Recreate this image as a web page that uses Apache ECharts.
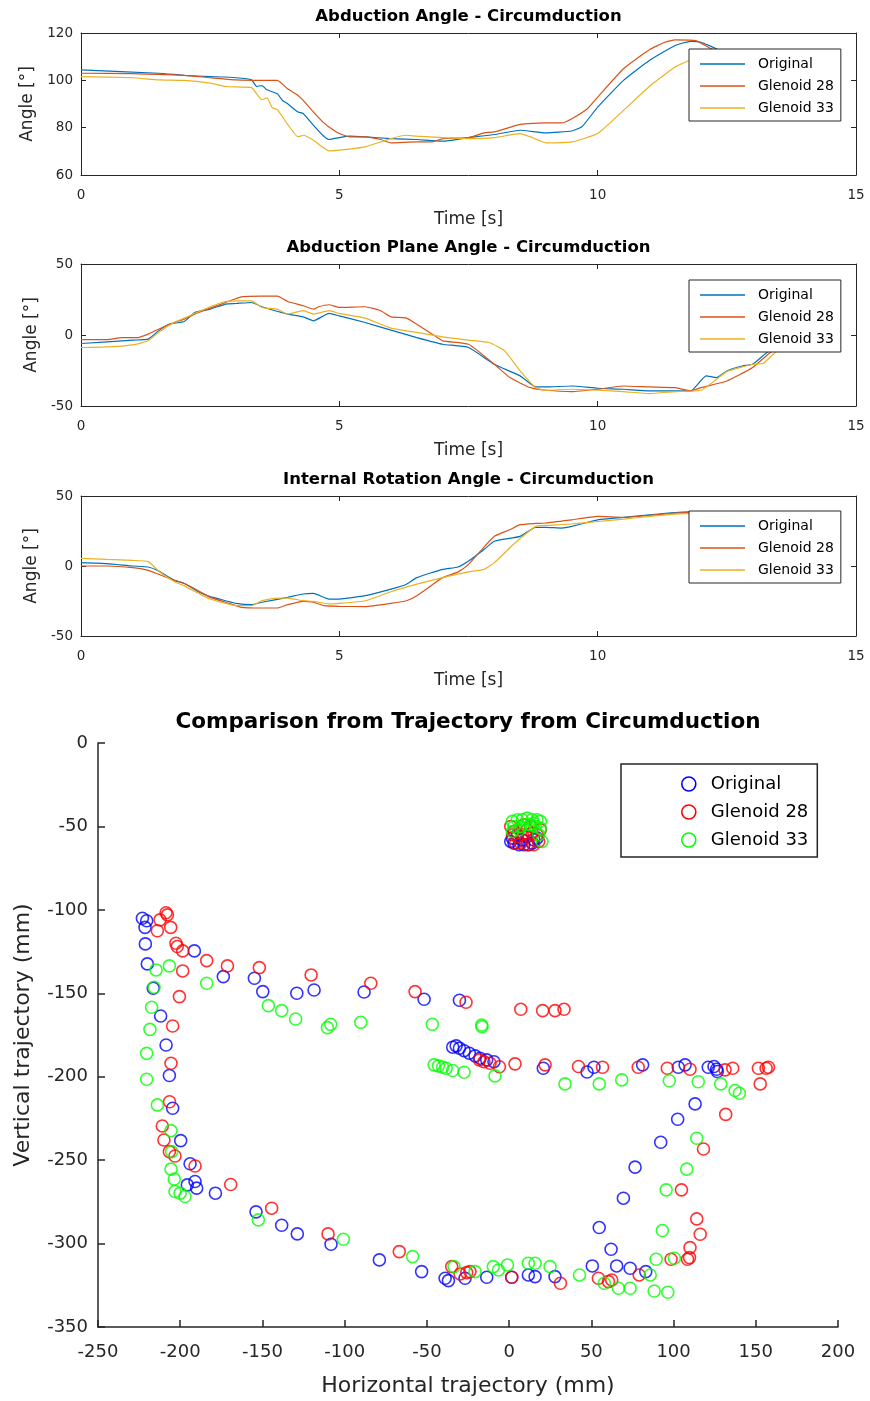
<!DOCTYPE html>
<html>
<head>
<meta charset="utf-8">
<script src="https://cdn.jsdelivr.net/npm/echarts@6/dist/echarts.min.js"></script>
<style>
html,body{margin:0;padding:0;background:#fff;}
#chart{width:870px;height:1401px;}
</style>
</head>
<body>
<div id="chart"></div>
<script>
// ---------------- DATA ----------------
const seriesNames = ['Original', 'Glenoid 28', 'Glenoid 33'];
const lineColors = ['#0072BD', '#D95319', '#EDB120'];
const scatterColors = ['#0000FF', '#FF0000', '#00FF00'];

const plotTitles = ['Abduction Angle - Circumduction', 'Abduction Plane Angle - Circumduction', 'Internal Rotation Angle - Circumduction'];
const timeTicks = [0, 5, 10, 15];

// Abduction angle [time s, angle deg]
const abdOriginal = [[0,104.4],[1.5,103],[2,102.1],[2.5,101.6],[3,101.1],[3.3,100.2],[3.4,97.4],[3.5,97.8],[3.6,96],[3.8,94.3],[3.9,91.5],[4,90.1],[4.2,86.6],[4.3,86],[4.5,81],[4.7,76.4],[4.8,75],[5,75.8],[5.2,76.4],[5.5,76.1],[6,75.4],[6.5,75],[7,74.3],[7.5,75.8],[8,77.1],[8.5,78.9],[9,77.8],[9.5,78.6],[9.7,80.5],[10,88.7],[10.5,100],[11,108.4],[11.5,114.7],[11.8,116.5],[12,116.1],[12.3,113.3],[12.6,109],[13,106],[13.6,104]];
const abdG28 = [[0,103],[1,102.8],[1.5,102.5],[2,102.1],[2.5,101.1],[3,100.2],[3.5,100],[3.8,100],[4,96.4],[4.2,93.6],[4.3,91.5],[4.5,86.6],[4.7,82],[4.8,80.3],[5,77.5],[5.2,76.1],[5.5,76.1],[5.8,75],[6,73.6],[6.5,74],[6.8,74],[7,75.4],[7.5,75.8],[7.8,77.8],[8,78.2],[8.5,81.4],[9,82],[9.3,82],[9.5,83.8],[9.8,88],[10,92.9],[10.5,104.9],[11,112.9],[11.3,116.1],[11.5,117.1],[11.9,116.8],[12.2,113.3],[12.6,109],[13,106],[13.6,104]];
const abdG33 = [[0,101.6],[1,101.1],[1.5,100.2],[2,100],[2.5,98.8],[2.8,97.4],[3.3,96.9],[3.4,94.3],[3.5,91.8],[3.6,92.6],[3.7,88.5],[3.8,87.6],[4,81.4],[4.2,76.1],[4.3,76.8],[4.5,74.7],[4.8,70.2],[5,70.5],[5.5,71.9],[6,75.4],[6.3,76.8],[6.5,76.4],[7,75.8],[7.5,75.4],[8,75.8],[8.5,77.5],[8.7,76.1],[9,73.6],[9.5,74],[10,77.5],[10.5,87.3],[11,97.4],[11.5,105.6],[11.8,108.6],[12.2,109.5],[12.6,108.5],[13,107],[13.6,104]];

// Abduction plane angle
const planeOriginal = [[0,-6],[1,-3.6],[1.3,-2.9],[1.5,2.9],[1.7,7.6],[2,9.5],[2.2,15.9],[2.5,18.2],[2.8,21.8],[3,22.2],[3.3,22.9],[3.5,19.9],[4,14.7],[4.3,12.8],[4.5,10],[4.8,15.2],[5,13.5],[5.5,8.8],[6,3.4],[6.5,-1.8],[7,-6.5],[7.5,-8.8],[8,-20.6],[8.5,-28.8],[8.8,-36.6],[9,-36.6],[9.5,-35.9],[10,-37.5],[10.5,-38.2],[11,-39.4],[11.5,-39.4],[11.8,-39.4],[12.1,-28.8],[12.3,-30],[12.5,-25.3],[12.8,-21.8],[13,-20.6],[13.3,-11.6],[13.6,-6]];
const planeG28 = [[0,-3.2],[0.5,-3.2],[0.8,-1.8],[1.1,-1.8],[1.3,0.6],[1.5,4.1],[1.8,8.8],[2,11.2],[2.2,14.7],[2.5,18.9],[2.8,22.9],[3.1,26.9],[3.5,27.4],[3.8,27.4],[4,23.6],[4.3,20.6],[4.5,18.2],[4.6,19.9],[4.8,21.3],[5,19.4],[5.5,19.9],[5.8,17.1],[6,12.8],[6.3,11.9],[6.5,7.6],[6.8,0.6],[7,-4.1],[7.5,-6.5],[8,-20.6],[8.3,-30],[8.7,-37.1],[9,-38.9],[9.5,-39.9],[10,-38.2],[10.5,-35.9],[11,-36.6],[11.5,-37.1],[11.8,-39.4],[12,-37.1],[12.5,-32.4],[13,-22.9],[13.3,-13.5],[13.6,-6]];
const planeG33 = [[0,-8.8],[0.5,-8.4],[1,-6.9],[1.3,-4.1],[1.5,1.8],[1.8,8.8],[2,11.9],[2.5,19.9],[2.8,23.6],[3,24.1],[3.3,24.1],[3.5,19.4],[3.8,18.2],[4,14.7],[4.3,17.1],[4.5,14.7],[4.8,17.1],[5,15.2],[5.5,11.9],[6,4.8],[6.5,1.8],[7,-1.3],[7.5,-3.6],[7.9,-5.3],[8.2,-11.2],[8.5,-25.3],[8.8,-37.1],[9,-38.9],[9.5,-38.2],[10,-38.9],[10.5,-39.9],[11,-41.3],[11.5,-39.9],[12,-38.9],[12.3,-31.2],[12.5,-25.8],[13,-20.6],[13.2,-20.1],[13.4,-13.5],[13.6,-7.6]];

// Internal rotation angle
const rotOriginal = [[0,2.4],[0.5,1.7],[1,0],[1.3,-0.7],[1.5,-3.5],[1.8,-10.1],[2,-12.5],[2.3,-18.9],[2.5,-21.9],[2.8,-24.8],[3,-26.7],[3.3,-27.6],[3.5,-25.9],[4,-22.4],[4.3,-20],[4.5,-19.6],[4.8,-23.6],[5,-23.6],[5.5,-21.2],[6,-16.5],[6.3,-13],[6.5,-8.3],[7,-2.4],[7.3,-0.7],[7.5,3.5],[7.8,11.8],[8,17.7],[8.5,21.2],[8.8,27.6],[9,27.6],[9.3,27.1],[9.5,28.3],[10,33],[10.5,34.7],[11,36.6],[11.5,38.2],[12,38.9],[12.4,38.5]];
const rotG28 = [[0,0],[0.5,0],[1,-1.2],[1.3,-3.1],[1.5,-5.9],[1.8,-10.1],[2,-12.5],[2.3,-18.2],[2.5,-22.4],[2.8,-25.9],[3.1,-29.5],[3.5,-30],[3.8,-30],[4,-27.6],[4.3,-25.2],[4.5,-25.9],[4.7,-28.3],[5,-28.8],[5.5,-29],[6,-26.7],[6.3,-24.8],[6.5,-21.2],[6.8,-13.4],[7,-8.3],[7.3,-4.2],[7.5,1.2],[7.7,9.4],[8,21.2],[8.3,25.9],[8.5,29.5],[8.8,30.4],[9,30.7],[9.5,33],[10,35.4],[10.5,34.7],[11,36.1],[11.5,37.7],[12,38.9],[12.4,38.5]];
const rotG33 = [[0,5.4],[0.5,4.7],[1,4],[1.3,3.1],[1.5,-3.5],[1.8,-11.1],[2,-14.2],[2.3,-20],[2.5,-23.6],[2.8,-26.7],[3,-28.3],[3.3,-28.3],[3.5,-24.8],[3.8,-22.9],[4,-22.9],[4.3,-24.8],[4.5,-25.2],[4.8,-27.1],[5,-26.7],[5.5,-24.8],[6,-18.4],[6.5,-13],[7,-8.3],[7.5,-4.2],[7.8,-2.4],[8,2.4],[8.3,13],[8.5,19.6],[8.8,28.3],[9,29],[9.5,30],[10,31.8],[10.5,33.5],[11,35.4],[11.5,37],[12,37.7],[12.4,38]];

// Trajectory [horizontal mm, vertical mm]
const trajOriginal = [[-223,-105],[-220.4,-106.5],[-221.4,-110.5],[-221.2,-120.4],[-220,-132.4],[-191.4,-124.6],[-216.4,-147],[-173.8,-140],[-154.9,-141],[-149.8,-149],[-129.1,-150],[-118.6,-148],[-211.9,-163.6],[-208.6,-181],[-206.6,-199.3],[-204.6,-218.9],[-199.7,-238.3],[-194,-252.2],[-195.7,-264.8],[-191,-262.8],[-190,-266.8],[-178.6,-269.8],[-153.9,-281],[-138.3,-289],[-128.8,-294.2],[-108.3,-300.4],[-78.9,-309.8],[-53.2,-316.8],[-38.9,-320.8],[-36.9,-322.2],[-26.8,-320.8],[-13.6,-320.2],[1.6,-320.2],[11.7,-318.8],[15.8,-319.8],[27.9,-319.8],[50.6,-313.4],[65.4,-313.4],[73.6,-314.8],[83.1,-316.8],[62,-303.4],[54.8,-290.4],[69.5,-272.8],[76.6,-254.2],[92.2,-239.3],[102.5,-225.5],[113.1,-216.3],[126.6,-196.9],[126.2,-195.5],[124.6,-193.9],[121.1,-194.3],[107,-192.9],[102.9,-194.3],[81.2,-192.9],[51.6,-194.3],[47.4,-197.2],[20.8,-194.9],[-9.2,-191],[-13.6,-189.9],[-17.7,-188.9],[-20.7,-187.5],[-24.2,-185.9],[-27.4,-184.4],[-30.2,-182.9],[-32.2,-181.5],[-34.3,-182.3],[-30.2,-154.2],[-51.7,-153.6],[-88.2,-149.2],
  [1,-59],[3,-60],[6,-61],[9,-61],[12,-61],[14,-60],[2,-57],[8,-58],[15,-58],[5,-55],[11,-56],[17,-57]];
const trajG28 = [[-208.6,-101.7],[-207.8,-103],[-212.3,-106],[-205.8,-110.5],[-213.9,-112.5],[-202.6,-120],[-201.8,-122],[-198.5,-124.6],[-183.9,-130.4],[-171.3,-133.6],[-151.9,-134.6],[-120.4,-139],[-84.1,-144],[-57.2,-149],[-26.2,-155.4],[7.1,-159.6],[20.4,-160.4],[27.9,-160.4],[33.4,-159.6],[-198.5,-136.6],[-200.5,-152],[-204.6,-169.6],[-205.6,-191.9],[-206.5,-215],[-210.9,-229.5],[-209.9,-237.9],[-206.6,-244.9],[-203.2,-247.5],[-191,-253.5],[-169.3,-264.6],[-144.4,-278.8],[-110.1,-294.2],[-66.8,-304.8],[-34.9,-313.8],[-29.8,-318.2],[-25.8,-317.4],[-23.8,-316.8],[1.6,-320.2],[31.2,-323.8],[54.3,-320.8],[60.4,-322.8],[62.4,-321.8],[79.1,-318.8],[98.5,-309.4],[108.5,-309.4],[109.7,-308.4],[110,-302.4],[116.2,-294.4],[114.1,-285.2],[104.8,-267.8],[118.2,-243.3],[131.7,-222.6],[152.7,-204.3],[157.7,-194.3],[156.3,-194.9],[151.6,-194.9],[136,-194.9],[131.3,-195.9],[110,-195.5],[96.2,-194.9],[78.5,-194.3],[56.8,-194.3],[42.2,-193.9],[21.9,-192.9],[3.6,-192.3],[-5.9,-194],[-11.6,-191.9],[-15.3,-191],[-18.1,-189.9],
  [1,-50],[3,-53],[5,-56],[8,-55],[11,-52],[14,-54],[17,-55],[19,-52],[18,-59],[15,-61],[11,-61],[7,-60],[4,-60],[2,-55],[9,-49],[13,-50]];
const trajG33 = [[-214.7,-136],[-206.6,-133.6],[-215.9,-146.4],[-183.9,-144],[-217.4,-158.4],[-218.4,-171.6],[-220.4,-186],[-220.4,-201.5],[-213.9,-216.9],[-205.6,-232.3],[-205.2,-244.9],[-205.6,-255.4],[-203.6,-261.4],[-203.2,-268.8],[-200.1,-269.8],[-197.1,-271.8],[-152.5,-285.8],[-100.8,-297.4],[-58.7,-307.8],[-33.5,-313.8],[-20.7,-316.8],[-9.6,-313.8],[-6.5,-315.8],[-1,-312.8],[11.7,-311.8],[15.8,-311.8],[24.9,-313.8],[42.8,-318.8],[57.9,-323.8],[66.5,-326.8],[73.6,-326.8],[85.8,-318.8],[88.2,-328.4],[96.5,-329.2],[89.4,-309.4],[100.5,-308.8],[93.2,-292.2],[95.5,-267.8],[108,-255.4],[114.1,-236.9],[140,-209.9],[137.4,-208.3],[128.7,-204.3],[115,-203],[97.4,-202.4],[68.5,-201.9],[54.8,-204.3],[34,-204.3],[-8.6,-199.5],[-27.4,-197.3],[-34.3,-196.3],[-38.3,-194.9],[-40.4,-194.3],[-43,-193.5],[-45.6,-192.9],[-16.7,-169],[-16.5,-170],[-46.7,-168.6],[-90.2,-167.4],[-108.5,-168.6],[-110.5,-170.6],[-129.8,-165.4],[-138.3,-160.4],[-146.4,-157.4],
  [2,-47],[5,-46],[8,-46],[11,-45],[14,-46],[17,-46],[19,-47],[3,-50],[7,-50],[10,-49],[13,-49],[16,-50],[19,-51],[2,-53],[18,-55],[20,-59],[15,-48],[6,-52]];

const angleRanges = [[60, 120, 20], [-50, 50, 50], [-50, 50, 50]];
const trajXRange = [-250, 200, 50];
const trajYRange = [-350, 0, 50];

// ---------------- BUILD ----------------
const FONT = 'DejaVu Sans';
const AX = '#262626';
const lineSets = [[abdOriginal, abdG28, abdG33], [planeOriginal, planeG28, planeG33], [rotOriginal, rotG28, rotG33]];
const gridTops = [33, 264, 496];
const gridHeights = [142, 142, 140];
const legendTops = [49, 280, 511];

const grid = [], xAxis = [], yAxis = [], series = [], legend = [], graphic = [];

for (let i = 0; i < 3; i++) {
  grid.push({left: 81, top: gridTops[i], width: 775, height: gridHeights[i]});
  const r = angleRanges[i];
  xAxis.push({
    gridIndex: i, type: 'value', min: timeTicks[0], max: timeTicks[timeTicks.length - 1], interval: 5,
    name: 'Time [s]', nameLocation: 'middle', nameGap: 36,
    nameTextStyle: {fontFamily: FONT, fontSize: 17, color: AX},
    axisLine: {onZero: false, lineStyle: {color: AX, width: 1}},
    axisTick: {inside: true, length: 5, lineStyle: {color: AX}},
    axisLabel: {fontFamily: FONT, fontSize: 13.5, color: AX, margin: 13},
    splitLine: {show: false}
  });
  xAxis.push({
    gridIndex: i, type: 'value', position: 'top', min: timeTicks[0], max: timeTicks[timeTicks.length - 1], interval: 5,
    axisLine: {onZero: false, lineStyle: {color: AX, width: 1}},
    axisTick: {inside: true, length: 5, lineStyle: {color: AX}},
    axisLabel: {show: false}, splitLine: {show: false}
  });
  yAxis.push({
    gridIndex: i, type: 'value', min: r[0], max: r[1], interval: r[2],
    name: 'Angle [°]', nameLocation: 'middle', nameGap: 40,
    nameTextStyle: {fontFamily: FONT, fontSize: 17, color: AX},
    axisLine: {onZero: false, lineStyle: {color: AX, width: 1}},
    axisTick: {inside: true, length: 5, lineStyle: {color: AX}},
    axisLabel: {fontFamily: FONT, fontSize: 13.5, color: AX, margin: 8},
    splitLine: {show: false}
  });
  yAxis.push({
    gridIndex: i, type: 'value', position: 'right', min: r[0], max: r[1], interval: r[2],
    axisLine: {onZero: false, lineStyle: {color: AX, width: 1}},
    axisTick: {inside: true, length: 5, lineStyle: {color: AX}},
    axisLabel: {show: false}, splitLine: {show: false}
  });
  for (let s = 0; s < 3; s++) {
    series.push({
      type: 'line', name: seriesNames[s], xAxisIndex: 2 * i, yAxisIndex: 2 * i,
      data: lineSets[i][s], symbol: 'none', showSymbol: false, smooth: 0.15,
      lineStyle: {width: 1.2, color: lineColors[s]}, itemStyle: {color: lineColors[s]},
      z: 2
    });
  }
  legend.push({
    left: 689, top: legendTops[i], orient: 'vertical', z: 10,
    data: seriesNames.map((n, s) => ({name: n, icon: 'path://M0,0H45V1.3H0Z', itemStyle: {color: lineColors[s]}})),
    itemWidth: 45, itemHeight: 14, itemGap: 8, selectedMode: false, symbolKeepAspect: true,
    backgroundColor: '#fff', borderColor: AX, borderWidth: 1, borderRadius: 0,
    padding: [8, 7, 6, 11],
    textStyle: {fontFamily: FONT, fontSize: 14, color: '#000', padding: [0, 0, 0, 8]}
  });
  graphic.push({
    type: 'text', x: 468.5, y: gridTops[i] - 16,
    style: {text: plotTitles[i], textAlign: 'center', textVerticalAlign: 'middle', align: 'center', verticalAlign: 'middle',
      fontFamily: FONT, fontSize: 16.5, fontWeight: 'bold', fill: '#000'}
  });
}

// Scatter
grid.push({left: 98, top: 743, width: 740, height: 584});
xAxis.push({
  gridIndex: 3, type: 'value', min: trajXRange[0], max: trajXRange[1], interval: trajXRange[2],
  name: 'Horizontal trajectory (mm)', nameLocation: 'middle', nameGap: 48,
  nameTextStyle: {fontFamily: FONT, fontSize: 22, color: AX},
  axisLine: {onZero: false, lineStyle: {color: AX, width: 1.5}},
  axisTick: {inside: true, length: 7, lineStyle: {color: AX, width: 1.5}},
  axisLabel: {fontFamily: FONT, fontSize: 18, color: AX, margin: 16},
  splitLine: {show: false}
});
yAxis.push({
  gridIndex: 3, type: 'value', min: trajYRange[0], max: trajYRange[1], interval: trajYRange[2],
  name: 'Vertical trajectory (mm)', nameLocation: 'middle', nameGap: 64,
  nameTextStyle: {fontFamily: FONT, fontSize: 22, color: AX},
  axisLine: {onZero: false, lineStyle: {color: AX, width: 1.5}},
  axisTick: {inside: true, length: 7, lineStyle: {color: AX, width: 1.5}},
  axisLabel: {fontFamily: FONT, fontSize: 18, color: AX, margin: 10},
  splitLine: {show: false}
});
const trajSets = [trajOriginal, trajG28, trajG33];
for (let s = 0; s < 3; s++) {
  series.push({
    type: 'scatter', name: seriesNames[s], xAxisIndex: 6, yAxisIndex: 6,
    data: trajSets[s], symbol: 'circle', symbolSize: 12,
    itemStyle: {color: 'rgba(0,0,0,0)', borderColor: scatterColors[s], borderWidth: 1.6},
    z: 2
  });
}
legend.push({
  left: 621, top: 764, orient: 'vertical', z: 10,
  data: seriesNames.map((n, s) => ({name: n, icon: 'circle',
    itemStyle: {color: 'rgba(0,0,0,0)', borderColor: scatterColors[s], borderWidth: 1.6}})),
  itemWidth: 34, itemHeight: 14, itemGap: 10, selectedMode: false, symbolKeepAspect: true,
  backgroundColor: '#fff', borderColor: AX, borderWidth: 1.5, borderRadius: 0,
  padding: [11, 9, 8, 60],
  textStyle: {fontFamily: FONT, fontSize: 18, color: '#000'}
});
graphic.push({
  type: 'text', x: 468, y: 722,
  style: {text: 'Comparison from Trajectory from Circumduction', textAlign: 'center', textVerticalAlign: 'middle', align: 'center', verticalAlign: 'middle',
    fontFamily: FONT, fontSize: 21.5, fontWeight: 'bold', fill: '#000'}
});

const chart = echarts.init(document.getElementById('chart'), null, {renderer: 'canvas'});
chart.setOption({
  animation: false,
  backgroundColor: '#fff',
  grid, xAxis, yAxis, series, legend, graphic
});
</script>
</body>
</html>
